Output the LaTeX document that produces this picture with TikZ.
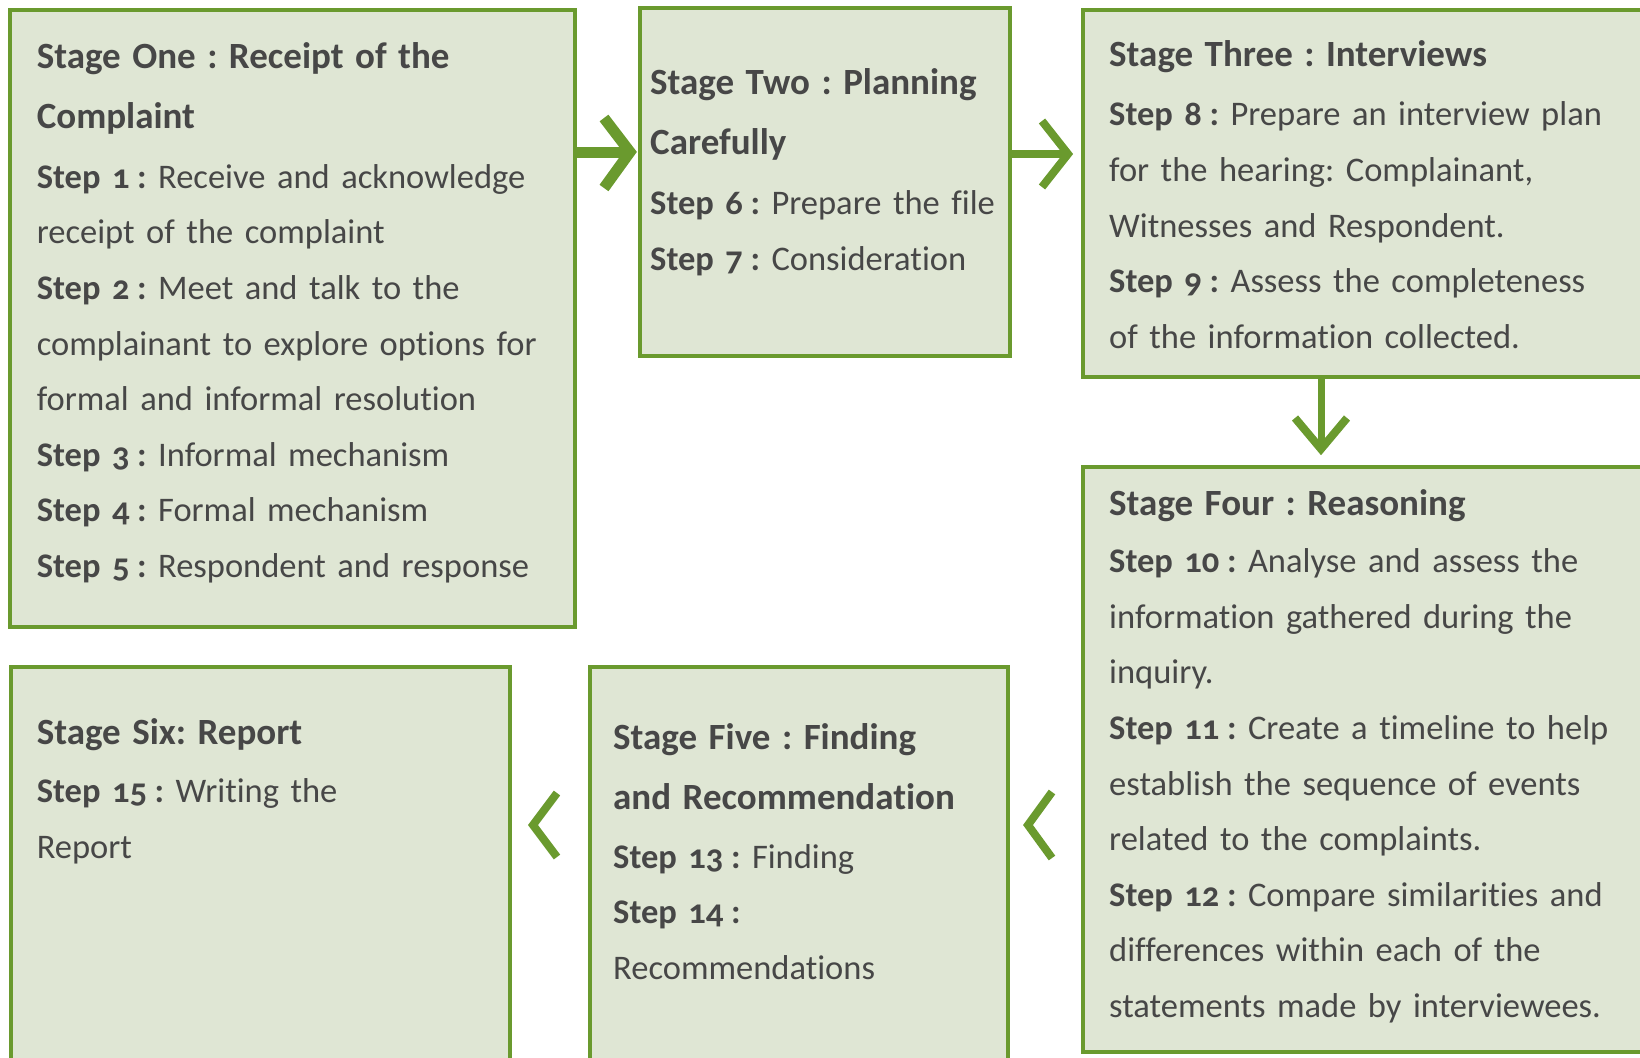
\documentclass[tikz,border=0pt]{standalone}
\usepackage{fontspec}
\setmainfont{Carlito}[Numbers=OldStyle,Ligatures=NoCommon]
\usepackage{xcolor}
\definecolor{verde}{HTML}{6A9A2E}
\definecolor{fondo}{HTML}{DFE6D4}
\definecolor{texto}{HTML}{474747}
\newcommand{\etapa}[1]{{\fontsize{37}{55.6}\selectfont\bfseries #1}}
\newcommand{\paso}[1]{\textbf{Step #1\kern0.22em:}}

\begin{document}
\begin{tikzpicture}[x=1pt,y=-1pt,
	caja/.style={draw=verde,fill=fondo,line width=3.5pt,inner sep=0pt,outer sep=0pt,anchor=north west},
	txt/.style={anchor=base west,inner sep=0pt,text=texto,align=left,text width=700pt,font=\fontsize{34.5}{55.6}\selectfont\frenchspacing},
	flecha/.style={draw=verde,line width=8pt,miter limit=10}]
	\path[use as bounding box,clip] (0,0) rectangle (1640,1057);
	% cajas
	\node[caja,minimum width=565pt,minimum height=617pt] (e1) at (10,10) {};
	\node[caja,minimum width=370pt,minimum height=348pt] (e2) at (640,8) {};
	\node[caja,minimum width=600pt,minimum height=367pt] (e3) at (1083,10) {};
	\node[caja,minimum width=600pt,minimum height=585pt] (e4) at (1083,467) {};
	\node[caja,minimum width=418pt,minimum height=450pt] (e5) at (590,667) {};
	\node[caja,minimum width=499pt,minimum height=450pt] (e6) at (11,667) {};
	% textos
	\node[txt] (t1) at (36.6,68.5) {\etapa{Stage One : Receipt of the}\\[4.5pt]
		\etapa{Complaint}\\[4pt]
		\paso{1} Receive and acknowledge\\
		receipt of the complaint\\
		\paso{2} Meet and talk to the\\
		complainant to explore options for\\
		formal and informal resolution\\
		\paso{3} Informal mechanism\\
		\paso{4} Formal mechanism\\
		\paso{5} Respondent and response};
	\node[txt] (t2) at (650,94.7) {\etapa{Stage Two : Planning}\\[4.5pt]
		\etapa{Carefully}\\[4pt]
		\paso{6} Prepare the file\\
		\paso{7} Consideration};
	\node[txt] (t3) at (1109,66.4) {\etapa{Stage Three : Interviews}\\[4pt]
		\paso{8} Prepare an interview plan\\
		for the hearing: Complainant,\\
		Witnesses and Respondent.\\
		\paso{9} Assess the completeness\\
		of the information collected.};
	\node[txt] (t4) at (1109,515) {\etapa{Stage Four : Reasoning}\\[2pt]
		\paso{10} Analyse and assess the\\
		information gathered during the\\
		inquiry.\\
		\paso{11} Create a timeline to help\\
		establish the sequence of events\\
		related to the complaints.\\
		\paso{12} Compare similarities and\\
		differences within each of the\\
		statements made by interviewees.};
	\node[txt] (t5) at (613,749.4) {\etapa{Stage Five : Finding}\\[4.5pt]
		\etapa{and Recommendation}\\[3pt]
		\paso{13} Finding\\
		\paso{14}\\
		Recommendations};
	\node[txt] (t6) at (36.6,744) {\etapa{Stage Six: Report}\\[3pt]
		\paso{15} Writing the\\
		Report};
	% flechas
	\coordinate (p1) at (630,152);
	\coordinate (p2) at (1068,154);
	\coordinate (p3) at (1321,449);
	\coordinate (p4) at (533,825);
	\coordinate (p5) at (1028,825);
	\draw[flecha,line width=11pt] (e1.east |- p1) -- (p1); % 1 a 2
	\draw[flecha,line width=11pt] (p1) ++(-26,-34) -- (p1) -- ++(-26,36);
	\draw[flecha] (e2.east |- p2) -- (p2); % 2 a 3
	\draw[flecha] (p2) ++(-26,-33) -- (p2) -- ++(-26,33);
	\draw[flecha,line width=7pt] (e3.south -| p3) -- (p3); % 3 a 4
	\draw[flecha] (p3) ++(-26,-31) -- (p3) -- ++(26,-31);
	\draw[flecha] (p4) ++(24,-32) -- (p4) -- ++(24,32); % 5 a 6
	\draw[flecha] (p5) ++(24,-33) -- (p5) -- ++(24,33); % 4 a 5
\end{tikzpicture}
\end{document}
